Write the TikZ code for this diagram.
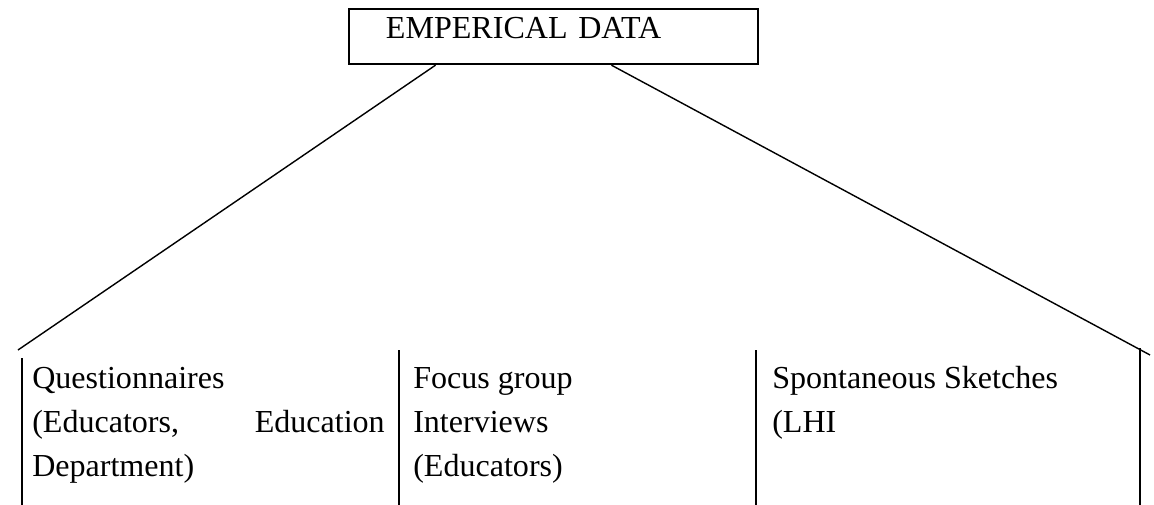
\documentclass[tikz,border=0pt]{standalone}
\usepackage{fontspec}
\setmainfont{Liberation Serif}
\usepackage{tikz}
\usetikzlibrary{calc}

\begin{document}
\begin{tikzpicture}[scale=0.25]
\tikzstyle{every node}+=[inner sep=0pt, font=\fontsize{22.8}{31.3}\selectfont]
\tikzstyle{databox}=[draw, line width=1.4pt, anchor=north west, minimum width=10.225cm, minimum height=1.375cm, inner xsep=0.925cm, inner ysep=0.2cm, text height=0.53cm, text depth=0.45cm, text width=8.375cm, align=left]
\tikzstyle{cell}=[anchor=base west]
\useasboundingbox (0,0) rectangle (115.4,-50.5);
% top box
\node [databox] (data) at (34.8,-0.8) {EMPERICAL DATA};
% table corners
\coordinate (tl) at (1.8,-35);
\coordinate (tr) at (115,-35.5);
\coordinate (c0) at (2.2,-35.8);
\coordinate (c1) at (39.9,-35);
\coordinate (c2) at (75.6,-35);
\coordinate (c3) at (114,-34.8);
\coordinate (b0) at (2.2,-50.5);
\coordinate (b1) at (39.9,-50.5);
\coordinate (b2) at (75.6,-50.5);
\coordinate (b3) at (114,-50.5);
\draw [black, line width=1pt] ($(data.south west)!0.213!(data.south east)$) -- (tl);
\draw [black, line width=1pt] ($(data.south west)!0.641!(data.south east)$) -- (tr);
\draw [black, line width=1.7pt] (c0) -- (b0);
\draw [black, line width=1.7pt] (c1) -- (b1);
\draw [black, line width=1.7pt] (c2) -- (b2);
\draw [black, line width=1.7pt] (c3) -- (b3);
% first column
\node [cell] (q1) at (3.2,-38.8) {Questionnaires};
\node [cell] (q2) at (3.2,-43.2) {(Educators,};
\node [anchor=base east] (q3) at (38.5,-43.2) {Education};
\node [cell] (q4) at (3.2,-47.6) {Department)};
% second column
\node [cell] (f1) at (41.3,-38.8) {Focus group};
\node [cell] (f2) at (41.3,-43.2) {Interviews};
\node [cell] (f3) at (41.3,-47.6) {(Educators)};
% third column
\node [cell] (s1) at (77.2,-38.8) {Spontaneous Sketches};
\node [cell] (s2) at (77.2,-43.2) {(LHI};
\end{tikzpicture}
\end{document}
